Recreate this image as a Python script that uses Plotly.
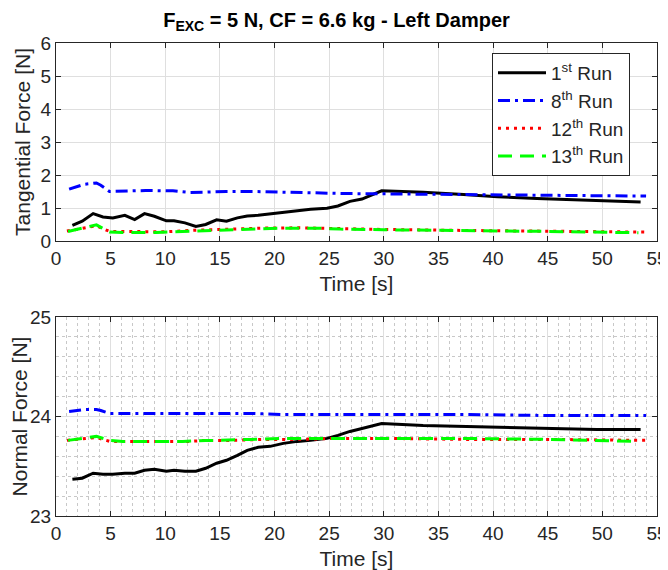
import plotly.graph_objects as go
from plotly.subplots import make_subplots

# ---- data ----
t1 = [1.5, 2.4, 3.4, 4.3, 5.2, 6.3, 7.2, 8.1, 9.0, 10.1, 10.8, 11.8, 12.8, 13.7, 14.7, 15.6, 16.6, 17.5, 18.5, 19.6,
      20.8, 22.1, 23.3, 24.8, 25.8, 26.9, 28.0, 29.8, 33.6, 37.3, 40.4, 44.0, 45.0, 49.5, 53.5]
ft1 = [0.47, 0.60, 0.83, 0.73, 0.70, 0.78, 0.65, 0.83, 0.75, 0.61, 0.61, 0.55, 0.44, 0.50, 0.64, 0.60, 0.70, 0.76, 0.78, 0.82,
       0.87, 0.92, 0.96, 0.99, 1.06, 1.20, 1.27, 1.52, 1.48, 1.41, 1.34, 1.29, 1.28, 1.23, 1.18]
fn1 = [23.37, 23.38, 23.43, 23.42, 23.42, 23.43, 23.43, 23.46, 23.47, 23.45, 23.46, 23.45, 23.45, 23.48, 23.53, 23.56, 23.61, 23.66, 23.69, 23.70,
       23.73, 23.75, 23.76, 23.78, 23.81, 23.85, 23.88, 23.93, 23.91, 23.90, 23.89, 23.88, 23.88, 23.87, 23.87]

t8 = [1.2, 2.6, 3.7, 4.1, 4.9, 6.7, 8.2, 10.7, 12.2, 13.7, 15.6, 18.1, 20.8, 23.6, 26.0, 30.0, 37.3, 45.0, 54.0]
ft8 = [1.57, 1.72, 1.76, 1.69, 1.50, 1.51, 1.53, 1.52, 1.47, 1.48, 1.50, 1.50, 1.47, 1.46, 1.44, 1.43, 1.40, 1.38, 1.36]
fn8 = [24.05, 24.07, 24.07, 24.06, 24.03, 24.03, 24.03, 24.03, 24.03, 24.03, 24.03, 24.03, 24.02, 24.02, 24.02, 24.02, 24.02, 24.01, 24.01]

t12 = [1.0, 3.7, 4.9, 7.1, 9.2, 10.1, 12.2, 13.7, 16.1, 19.1, 22.1, 25.8, 30.0, 37.3, 45.0, 54.0]
ft12 = [0.30, 0.46, 0.29, 0.29, 0.29, 0.28, 0.32, 0.34, 0.36, 0.39, 0.40, 0.37, 0.35, 0.32, 0.29, 0.27]
fn12 = [23.76, 23.79, 23.75, 23.75, 23.75, 23.75, 23.75, 23.76, 23.76, 23.77, 23.77, 23.78, 23.78, 23.77, 23.77, 23.76]

t13 = [1.1, 3.7, 4.9, 6.1, 9.2, 11.6, 13.7, 14.7, 17.8, 20.8, 23.8, 26.0, 30.0, 37.3, 45.0, 53.3]
ft13 = [0.29, 0.49, 0.27, 0.26, 0.26, 0.29, 0.30, 0.33, 0.36, 0.39, 0.39, 0.36, 0.34, 0.32, 0.29, 0.25]
fn13 = [23.76, 23.80, 23.76, 23.75, 23.75, 23.75, 23.76, 23.76, 23.77, 23.78, 23.78, 23.78, 23.78, 23.78, 23.77, 23.75]

names = ["1<sup>st</sup> Run", "8<sup>th</sup> Run", "12<sup>th</sup> Run", "13<sup>th</sup> Run"]
x_ticks = [0, 5, 10, 15, 20, 25, 30, 35, 40, 45, 50, 55]

series = [
    (t1, ft1, fn1, "#000000", "solid"),
    (t8, ft8, fn8, "#0000FF", "12px,5px,3px,5px"),
    (t12, ft12, fn12, "#FF0000", "3px,5px"),
    (t13, ft13, fn13, "#00FF00", "14px,8px"),
]

# page has an 8px body margin; figure drawn at (8, 8)
OFF = 8
W, H = 668 - OFF, 570 - OFF
ml, mr, mt, mb = 56 - OFF, 11, 43 - OFF, 54
ph = H - mt - mb
pw = W - ml - mr

fig = make_subplots(rows=2, cols=1)
for i, (t, ft, fn, c, d) in enumerate(series):
    fig.add_trace(go.Scatter(x=t, y=ft, mode="lines", name=names[i],
                             line=dict(color=c, width=3, dash=d), legendgroup=str(i)), row=1, col=1)
    fig.add_trace(go.Scatter(x=t, y=fn, mode="lines", name=names[i], showlegend=False,
                             line=dict(color=c, width=3, dash=d), legendgroup=str(i)), row=2, col=1)

FONT = "Liberation Sans, Arial, sans-serif"
axcol = "#262626"
gridcol = "#dfdfdf"

common = dict(showline=True, linecolor=axcol, linewidth=1, mirror="ticks", ticks="inside",
              ticklen=5, tickcolor=axcol, tickfont=dict(family=FONT, size=19, color=axcol),
              showgrid=True, gridcolor=gridcol, gridwidth=1, zeroline=False, automargin=False)

top_dom = [1 - 198 / ph, 1]
bot_dom = [0, 1 - 274 / ph]

fig.update_layout(
    width=W, height=H,
    margin=dict(l=ml, r=mr, t=mt, b=mb),
    paper_bgcolor="white", plot_bgcolor="white",
    font=dict(family=FONT, color=axcol),
    title=dict(text="<b>F<sub>EXC</sub> = 5 N, CF = 6.6 kg - Left Damper</b>",
               x=((160 + 513) / 2 - OFF) / W, xanchor="center", y=1 - 5 / H, yanchor="top",
               font=dict(family=FONT, size=20, color="#000000")),
    showlegend=True,
    legend=dict(x=(492 - 56) / pw, y=1 - (53 - 43) / ph, xanchor="left", yanchor="top",
                bgcolor="white", bordercolor=axcol, borderwidth=1, itemwidth=48,
                font=dict(family=FONT, size=19, color=axcol), tracegroupgap=0),
)

fig.update_xaxes(common, range=[0, 55], tickvals=x_ticks, domain=[0, 1],
                 title=dict(text="Time [s]", font=dict(family=FONT, size=21, color=axcol), standoff=8))
fig.update_xaxes(row=2, col=1,
                 minor=dict(dtick=1, showgrid=True, gridcolor="#c8c8c8", griddash="dot", gridwidth=1, ticks=""))
fig.update_yaxes(common, row=1, col=1, range=[0, 6], tickvals=[0, 1, 2, 3, 4, 5, 6], domain=top_dom,
                 title=dict(text="Tangential Force [N]", font=dict(family=FONT, size=21, color=axcol), standoff=4))
fig.update_yaxes(common, row=2, col=1, range=[23, 25], tickvals=[23, 24, 25], domain=bot_dom,
                 minor=dict(dtick=0.2, showgrid=True, gridcolor="#c8c8c8", griddash="dot", gridwidth=1, ticks=""),
                 title=dict(text="Normal Force [N]", font=dict(family=FONT, size=21, color=axcol), standoff=4))

fig.write_html("out.html")
